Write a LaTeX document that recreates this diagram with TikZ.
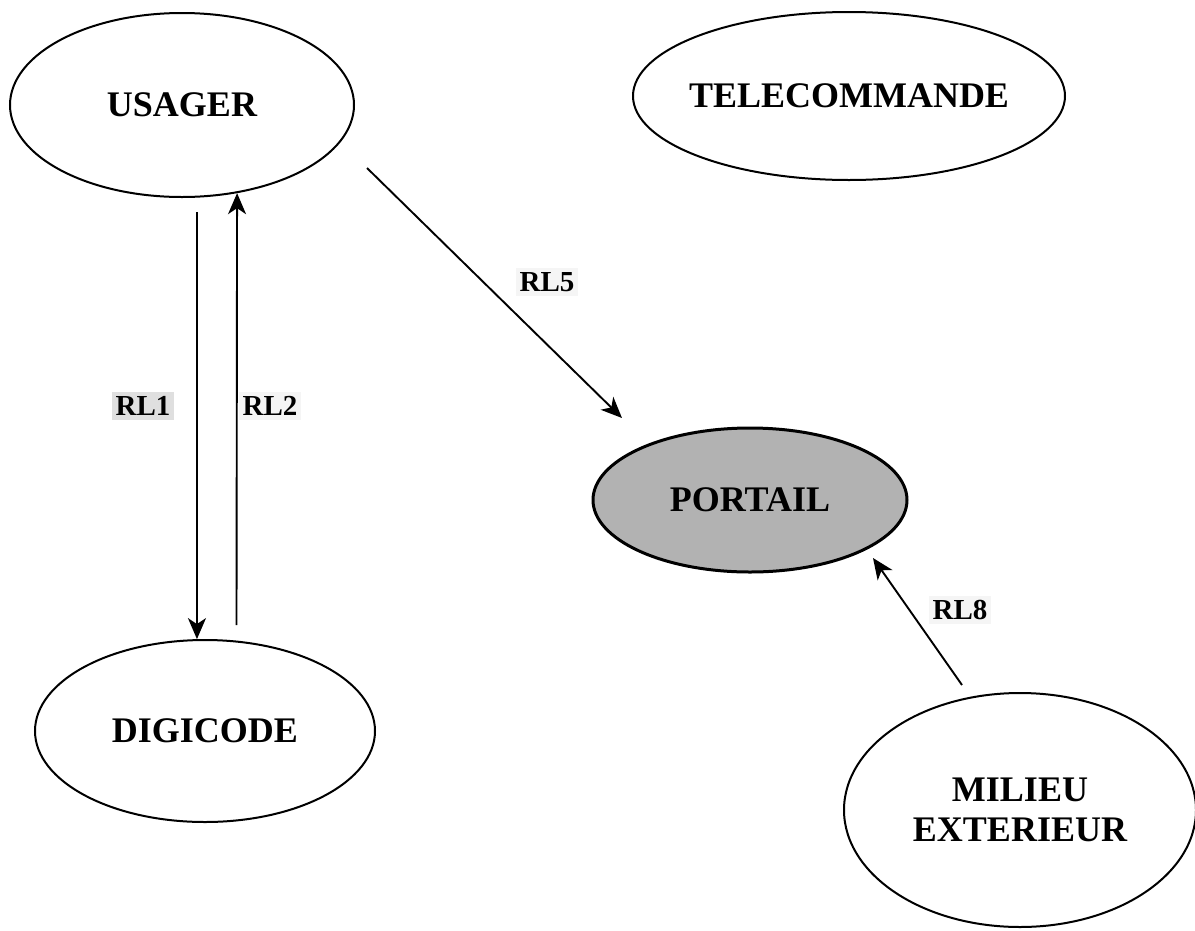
\documentclass[tikz,border=0pt]{standalone}
\usepackage{fontspec}
\setmainfont{Liberation Serif}
\usetikzlibrary{shapes.geometric,arrows.meta}

\tikzset{
  entity/.style={ellipse, draw=black, line width=2pt, inner sep=0pt,
    font=\fontsize{36}{40}\selectfont\bfseries, align=center},
  flow/.style={line width=1.9pt, -{Stealth[length=21pt,width=18pt,inset=6pt]}},
  flowlabel/.style={font=\fontsize{29}{32}\selectfont\bfseries, inner sep=4pt, fill=gray!8},
}

\begin{document}
\begin{tikzpicture}[x=1pt,y=-1pt]
  \useasboundingbox (0,0) rectangle (1195,930);

  % actors
  \node[entity, minimum width=344pt, minimum height=184pt] (usager) at (182,105) {USAGER};
  \node[entity, minimum width=432pt, minimum height=168pt, inner xsep=-12pt] (telecommande) at (849,96) {TELECOMMANDE};
  \node[entity, minimum width=340pt, minimum height=182pt] (digicode) at (205,731) {DIGICODE};
  \node[entity, minimum width=314pt, minimum height=144pt, line width=3pt, fill=black!30] (portail) at (750,500) {PORTAIL};
  \node[entity, minimum width=352pt, minimum height=234pt] (milieu) at (1020,810) {MILIEU\\EXTERIEUR};

  % free ends of the flows
  \coordinate (rl1start) at (197,212);
  \coordinate (rl2start) at (236.5,625);
  \coordinate (rl5start) at (367,168);
  \coordinate (rl5end) at (622,418);
  \coordinate (rl8start) at (962,685);
  \coordinate (rl8end) at (873,558);

  % flows
  \draw[flow] (rl1start) -- (digicode.95);
  \draw[flow] (rl2start) -- (usager.302);
  \draw[flow] (rl5start) -- (rl5end);
  \draw[flow] (rl8start) -- (rl8end);

  % flow labels
  \node[flowlabel, fill=gray!25] (rl1) at (143,406) {RL1};
  \node[flowlabel] (rl2) at (270,406) {RL2};
  \node[flowlabel] (rl5) at (547,282) {RL5};
  \node[flowlabel] (rl8) at (960,610) {RL8};
\end{tikzpicture}
\end{document}
